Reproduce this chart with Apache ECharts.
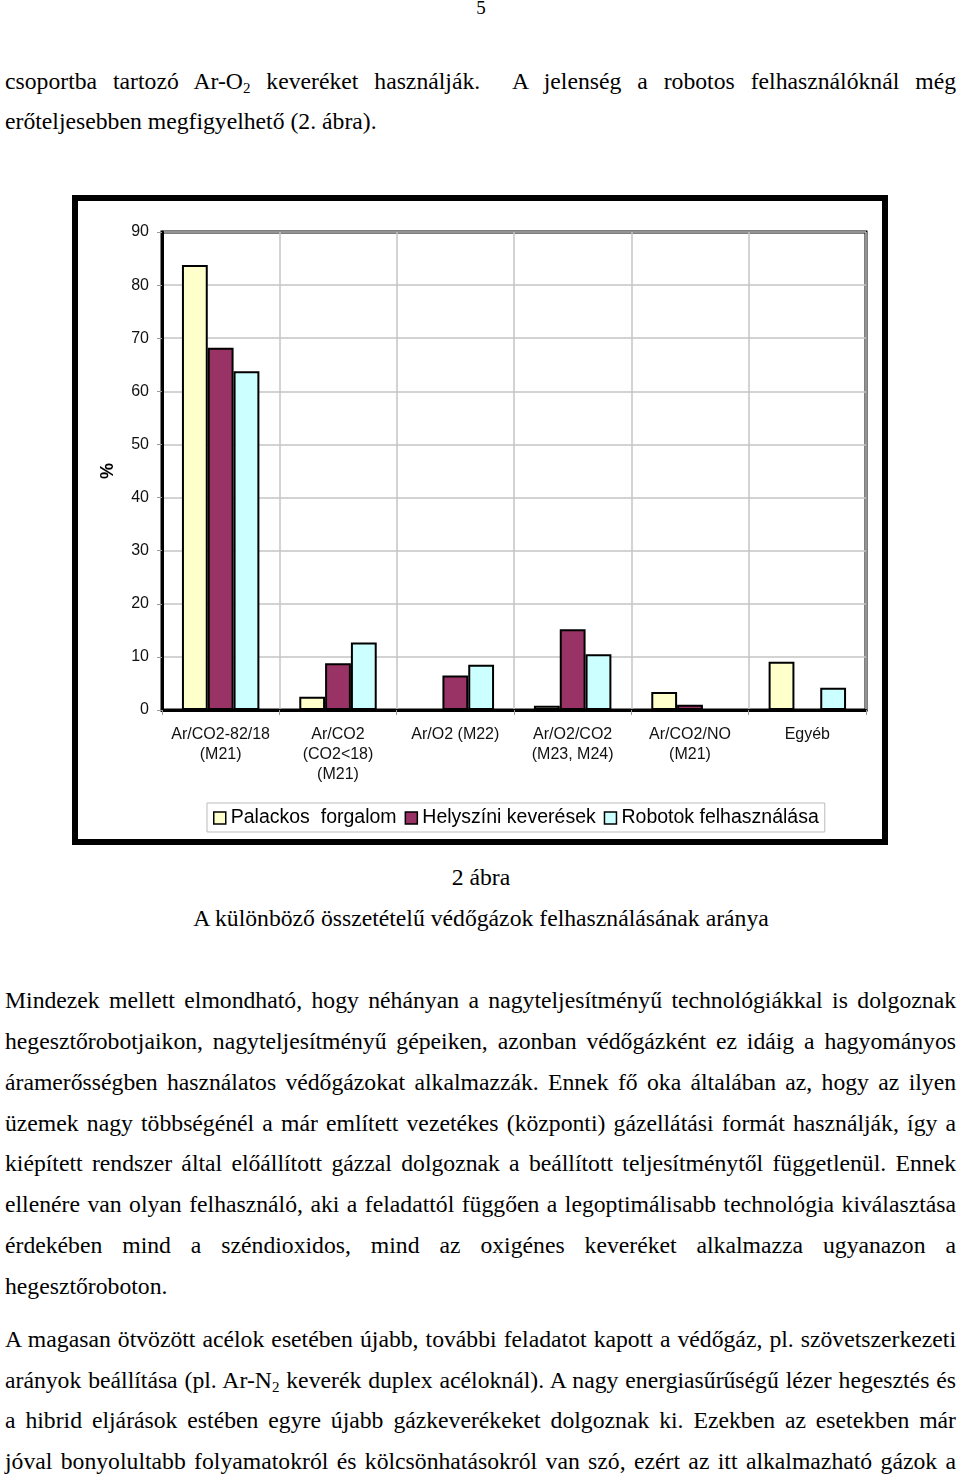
<!DOCTYPE html>
<html>
<head>
<meta charset="utf-8">
<script src="https://cdn.jsdelivr.net/npm/echarts@6/dist/echarts.min.js"></script>
<style>
  html, body { margin: 0; padding: 0; background: #fff; }
  body { width: 960px; height: 1476px; position: relative; overflow: hidden; font-family: "Liberation Serif", "Times New Roman", serif; color: #000; }
  .ln { position: absolute; left: 5px; width: 951px; font-size: 23.7px; line-height: 30px; white-space: nowrap; }
  .j { text-align: justify; text-align-last: justify; white-space: normal; }
  .c { left: 0; width: 962px; text-align: center; }
  sub { font-size: 15px; line-height: 0; vertical-align: -4px; }
  #frame { position: absolute; left: 72px; top: 195px; width: 816px; height: 650px; box-sizing: border-box; border: 6px solid #000; pointer-events: none; z-index: 2; }
  #chart { position: absolute; left: 72px; top: 195px; width: 816px; height: 650px; }
</style>
</head>
<body>
<div class="ln c" style="top:-7px;font-size:19px;">5</div>
<div class="ln j" style="top:66px;">csoportba tartozó Ar-O<sub>2</sub> keveréket használják. &nbsp;A jelenség a robotos felhasználóknál még</div>
<div class="ln" style="top:106px;">erőteljesebben megfigyelhető (2. ábra).</div>

<div id="chart"></div>
<div id="frame"></div>

<div class="ln c" style="top:862px;">2 ábra</div>
<div class="ln c" style="top:903px;">A különböző összetételű védőgázok felhasználásának aránya</div>

<div class="ln j" style="top:985px;">Mindezek mellett elmondható, hogy néhányan a nagyteljesítményű technológiákkal is dolgoznak</div>
<div class="ln j" style="top:1026px;">hegesztőrobotjaikon, nagyteljesítményű gépeiken, azonban védőgázként ez idáig a hagyományos</div>
<div class="ln j" style="top:1067px;">áramerősségben használatos védőgázokat alkalmazzák. Ennek fő oka általában az, hogy az ilyen</div>
<div class="ln j" style="top:1108px;">üzemek nagy többségénél a már említett vezetékes (központi) gázellátási formát használják, így a</div>
<div class="ln j" style="top:1148px;">kiépített rendszer által előállított gázzal dolgoznak a beállított teljesítménytől függetlenül. Ennek</div>
<div class="ln j" style="top:1189px;">ellenére van olyan felhasználó, aki a feladattól függően a legoptimálisabb technológia kiválasztása</div>
<div class="ln j" style="top:1230px;">érdekében mind a széndioxidos, mind az oxigénes keveréket alkalmazza ugyanazon a</div>
<div class="ln" style="top:1271px;">hegesztőroboton.</div>

<div class="ln j" style="top:1324px;">A magasan ötvözött acélok esetében újabb, további feladatot kapott a védőgáz, pl. szövetszerkezeti</div>
<div class="ln j" style="top:1365px;">arányok beállítása (pl. Ar-N<sub>2</sub> keverék duplex acéloknál). A nagy energiasűrűségű lézer hegesztés és</div>
<div class="ln j" style="top:1405px;">a hibrid eljárások estében egyre újabb gázkeverékeket dolgoznak ki. Ezekben az esetekben már</div>
<div class="ln j" style="top:1446px;">jóval bonyolultabb folyamatokról és kölcsönhatásokról van szó, ezért az itt alkalmazható gázok a</div>

<script>
var categories = ["Ar/CO2-82/18\n(M21)", "Ar/CO2\n(CO2<18)\n(M21)", "Ar/O2 (M22)", "Ar/O2/CO2\n(M23, M24)", "Ar/CO2/NO\n(M21)", "Egyéb"];
var seriesNames = ["Palackos  forgalom", "Helyszíni keverések", "Robotok felhasználása"];
var palackos = [83.8, 2.5, 0, 0.8, 3.4, 9.1];
var helyszini = [68.2, 8.8, 6.5, 15.2, 1.0, 0];
var robotok = [63.8, 12.7, 8.5, 10.5, 0, 4.2];
var yTicks = [0, 10, 20, 30, 40, 50, 60, 70, 80, 90];
var colors = ["#FFFFCC", "#993366", "#CCFFFF"];

var chart = echarts.init(document.getElementById('chart'), null, { renderer: 'canvas' });
var sans = '"Liberation Sans", Arial, sans-serif';
var values = [palackos, helyszini, robotok];
chart.setOption({
  animation: false,
  backgroundColor: '#fff',
  color: colors,
  grid: { left: 90, top: 37, width: 704, height: 478, show: true, borderColor: '#000', borderWidth: 3, backgroundColor: 'transparent' },
  legend: {
    left: 135, top: 608,
    data: seriesNames,
    icon: 'rect',
    itemWidth: 12, itemHeight: 12, itemGap: 8,
    borderColor: '#bbb', borderWidth: 1, padding: [5, 6, 4, 6],
    textStyle: { fontFamily: sans, fontSize: 19.5, color: '#000', padding: [0, 0, 0, 0] },
    itemStyle: { borderColor: '#000', borderWidth: 1.5 }
  },
  xAxis: {
    type: 'category',
    data: categories,
    axisLine: { lineStyle: { color: '#000', width: 3 } },
    axisTick: { show: true, length: 5, lineStyle: { color: '#999', width: 1 } },
    splitLine: { show: true, lineStyle: { color: '#c4c4c4', width: 1.5 } },
    axisLabel: { fontFamily: sans, fontSize: 16, color: '#111', lineHeight: 20, margin: 15, interval: 0 }
  },
  yAxis: {
    type: 'value',
    min: 0, max: 90, interval: 10,
    name: '%', nameLocation: 'middle', nameRotate: 90, nameGap: 45,
    nameTextStyle: { fontFamily: sans, fontSize: 18, fontWeight: 'bold', color: '#000' },
    axisLine: { show: true, lineStyle: { color: '#000', width: 3 } },
    axisTick: { show: true, length: 5, lineStyle: { color: '#999', width: 1 } },
    splitLine: { show: true, lineStyle: { color: '#c4c4c4', width: 1.5 } },
    axisLabel: {
      fontFamily: sans, fontSize: 16, color: '#111', margin: 13,
      formatter: function (v) { return yTicks.indexOf(v) >= 0 ? String(v) : ''; }
    }
  },
  series: seriesNames.map(function (n, i) {
    return {
      name: n, type: 'bar', data: values[i],
      barGap: '0%', barCategoryGap: '34%',
      itemStyle: { color: colors[i], borderColor: '#000', borderWidth: 2 }
    };
  })
});
</script>
</body>
</html>
